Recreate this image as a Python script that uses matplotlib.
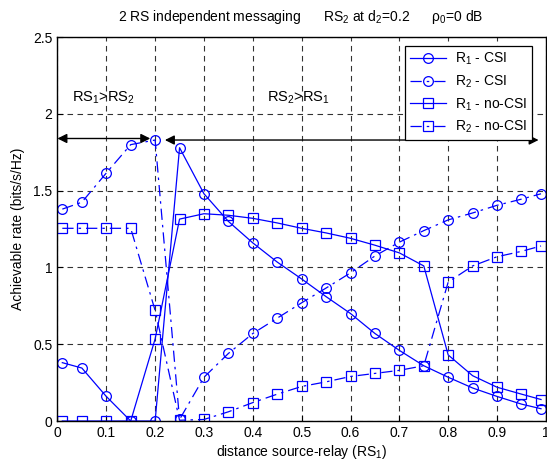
import matplotlib
matplotlib.use("Agg")
import matplotlib.pyplot as plt
import numpy as np

plt.rcParams['font.family'] = ['Liberation Sans', 'DejaVu Sans']
plt.rcParams['mathtext.fontset'] = 'custom'
plt.rcParams['mathtext.rm'] = 'Liberation Sans'
plt.rcParams['mathtext.it'] = 'Liberation Sans'

# distances source-relay
d = [0.01, 0.05, 0.1, 0.15, 0.2, 0.25, 0.3, 0.35, 0.4, 0.45, 0.5,
     0.55, 0.6, 0.65, 0.7, 0.75, 0.8, 0.85, 0.9, 0.95, 0.99]

r1_csi = [0.38, 0.345, 0.16, 0.0, 0.0, 1.78, 1.48, 1.30, 1.16, 1.035, 0.925,
          0.81, 0.70, 0.57, 0.46, 0.36, 0.285, 0.215, 0.16, 0.11, 0.08]
r2_csi = [1.38, 1.425, 1.615, 1.80, 1.83, 0.01, 0.285, 0.44, 0.57, 0.67, 0.77,
          0.866, 0.965, 1.075, 1.165, 1.24, 1.31, 1.355, 1.405, 1.445, 1.48]
r1_nocsi = [0.0, 0.0, 0.0, 0.0, 0.535, 1.315, 1.35, 1.34, 1.32, 1.29, 1.255,
            1.225, 1.19, 1.145, 1.095, 1.01, 0.43, 0.295, 0.22, 0.175, 0.14]
r2_nocsi = [1.255, 1.255, 1.255, 1.255, 0.72, 0.005, 0.01, 0.06, 0.12, 0.175, 0.225,
            0.255, 0.29, 0.31, 0.33, 0.36, 0.905, 1.01, 1.07, 1.105, 1.14]

xticks = np.arange(0, 1.01, 0.1)
yticks = np.arange(0, 2.51, 0.5)

fig = plt.figure(figsize=(5.47, 4.65), dpi=100)
ax = fig.add_axes([0.105, 0.0946, 0.893, 0.8255])

blue = '#0000ff'
dashdot = (0, (9, 4, 2, 4))
mk = dict(markersize=7, markerfacecolor='none', markeredgecolor=blue, markeredgewidth=0.9)

ax.plot(d, r1_csi, '-', color=blue, lw=0.9, marker='o', label='R$_1$ - CSI', **mk)
ax.plot(d, r2_csi, linestyle=dashdot, color=blue, lw=0.9, marker='o', label='R$_2$ - CSI', **mk)
ax.plot(d, r1_nocsi, '-', color=blue, lw=0.9, marker='s', label='R$_1$ - no-CSI', **mk)
ax.plot(d, r2_nocsi, linestyle=dashdot, color=blue, lw=0.9, marker='s', label='R$_2$ - no-CSI', **mk)

# region arrows
arr = dict(arrowstyle='<|-|>', color='black', lw=1.0, mutation_scale=14, shrinkA=0, shrinkB=0)
ax.annotate('', xy=(0.0, 1.84), xytext=(0.19, 1.84), arrowprops=arr)
ax.annotate('', xy=(0.22, 1.83), xytext=(0.985, 1.83), arrowprops=arr)
ax.text(0.03, 2.08, 'RS$_1$>RS$_2$', fontsize=10.5)
ax.text(0.43, 2.08, 'RS$_2$>RS$_1$', fontsize=10.5)

ax.set_xlim(0, 1)
ax.set_ylim(0, 2.5)
ax.set_xticks(xticks)
ax.set_xticklabels(['0', '0.1', '0.2', '0.3', '0.4', '0.5', '0.6', '0.7', '0.8', '0.9', '1'])
ax.set_yticks(yticks)
ax.set_yticklabels(['0', '0.5', '1', '1.5', '2', '2.5'])
ax.tick_params(direction='in', labelsize=10, length=4)
ax.grid(True, color='black', linestyle=(0, (5, 4)), lw=0.8, alpha=0.8)
for s in ax.spines.values():
    s.set_linewidth(1.0)

ax.set_xlabel('distance source-relay (RS$_1$)', fontsize=10, labelpad=2)
ax.set_ylabel('Achievable rate (bits/s/Hz)', fontsize=10, labelpad=6)
fig.text(0.55, 0.955, '2 RS independent messaging      RS$_2$ at d$_2$=0.2      $\\rho_0$=0 dB',
         ha='center', fontsize=10)

leg = ax.legend(loc='upper right', fontsize=10, fancybox=False, edgecolor='black',
                framealpha=1, borderpad=0.35, handlelength=2.6, labelspacing=0.45,
                handletextpad=0.6, bbox_to_anchor=(0.985, 0.995))
leg.get_frame().set_linewidth(0.9)

fig.savefig('out.png', dpi=100)
